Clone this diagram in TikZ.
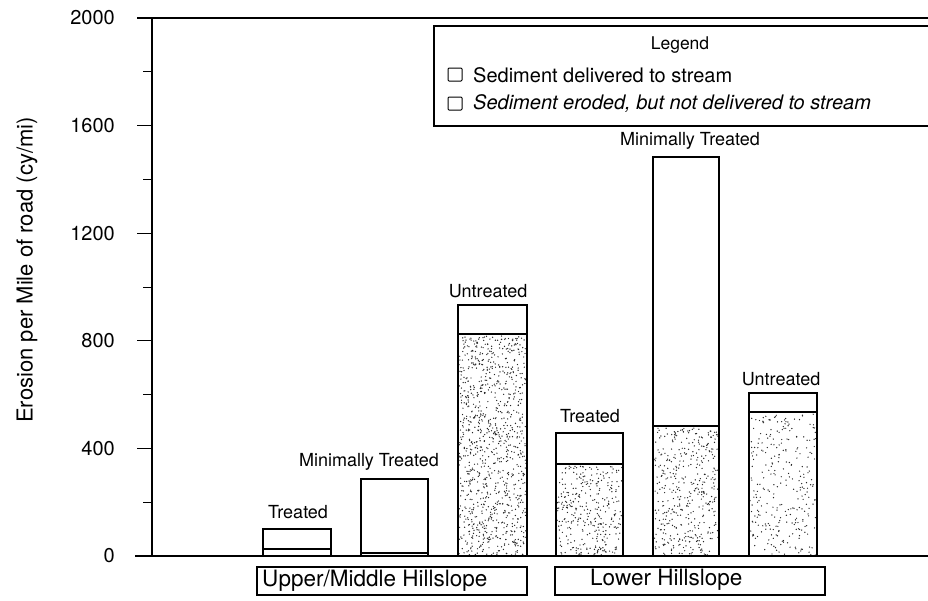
\documentclass[tikz,border=0pt]{standalone}
\usepackage{fontspec}
\setmainfont{TeX Gyre Heros}
\newcommand\mystipple[5]{%
  \foreach \k in {1,...,#5}{%
    \fill[black!85] ({#1+rnd*#3},{#2+rnd*#4}) circle (0.7);
  }%
}
\begin{document}
\begin{tikzpicture}[x=1pt,y=-1pt,
  axisl/.style={line width=1.2pt},
  barbox/.style={draw=black, line width=1.1pt},
  divl/.style={line width=1.7pt},
  barlabel/.style={font=\fontsize{18}{20}\selectfont, inner sep=0pt},
  ticklabel/.style={font=\fontsize{20}{22}\selectfont, inner sep=0pt, anchor=east},
  grouplabel/.style={font=\fontsize{22.5}{25}\selectfont, inner sep=0pt, anchor=west},
  legtext/.style={font=\fontsize{20}{22}\selectfont, inner sep=0pt, anchor=west},
  legsq/.style={draw=black, line width=1pt, rounded corners=1pt}]
\useasboundingbox (0,0) rectangle (928,600);
\pgfmathsetseed{7}
% axes
\draw[axisl] (152,18) -- (152,556);
\draw[axisl] (137,18) -- (928,18);
\draw[axisl] (135,556) -- (928,556);
\foreach \yy in {448.4,340.8,233.2,125.6}{
  \draw[axisl] (137,\yy) -- (152,\yy);
}
\foreach \yy in {502.2,394.6,287,179.4,71.8}{
  \draw[line width=0.9pt] (143,\yy) -- (152,\yy);
}
\node[ticklabel] (t0) at (115,556) {0};
\node[ticklabel] (t400) at (115,448.4) {400};
\node[ticklabel] (t800) at (115,340.8) {800};
\node[ticklabel] (t1200) at (115,233.2) {1200};
\node[ticklabel] (t1600) at (115,125.6) {1600};
\node[ticklabel] (t2000) at (115,18) {2000};
\node[font=\fontsize{22}{24}\selectfont, rotate=90, inner sep=0pt] (ylab) at (27,270) {Erosion per Mile of road (cy/mi)};
% bar 1: treated (upper)
\draw[barbox] (263,529) rectangle (331,556);
\draw[divl] (263,549) -- (331,549);
\node[barlabel] (l1) at (298,512) {Treated};
% bar 2: minimally treated (upper)
\draw[barbox] (361,479) rectangle (428,556);
\draw[divl] (361,553) -- (428,553);
\node[barlabel] (l2) at (369,462) {Minimally Treated};
% bar 3: untreated (upper)
\mystipple{459}{336}{67}{219}{1000}
\draw[barbox] (458,305) rectangle (527,556);
\draw[divl] (458,334) -- (527,334);
\node[barlabel] (l3) at (488,291) {Untreated};
% bar 4: treated (lower)
\mystipple{557}{466}{65}{89}{330}
\draw[barbox] (556,433) rectangle (623,556);
\draw[divl] (556,464) -- (623,464);
\node[barlabel] (l4) at (590,416) {Treated};
% bar 5: minimally treated (lower)
\mystipple{654}{428}{64}{127}{420}
\draw[barbox] (653,157) rectangle (719,556);
\draw[divl] (653,426) -- (719,426);
\node[barlabel] (l5) at (690,141) {Minimally Treated};
% bar 6: untreated (lower)
\mystipple{750}{414}{66}{141}{290}
\draw[barbox] (749,393) rectangle (817,556);
\draw[divl] (749,412) -- (817,412);
\node[barlabel] (l6) at (781,379) {Untreated};
% group boxes
\draw[line width=1.1pt] (257,567) rectangle (527,595);
\node[grouplabel] (g1) at (262,581) {Upper/Middle Hillslope};
\draw[line width=1.1pt] (555,567) rectangle (825,595);
\node[grouplabel] (g2) at (590,580) {Lower Hillslope};
% legend
\draw[line width=1.1pt] (930,26) -- (434,26) -- (434,126) -- (930,126);
\node[font=\fontsize{17.5}{19}\selectfont, inner sep=0pt] (legt) at (680,45) {Legend};
\draw[legsq] (448,68) rectangle (462,81);
\node[legtext] (li1) at (473,75) {Sediment delivered to stream};
\draw[legsq] (448,97) rectangle (462,110);
\node[legtext] (li2) at (473,104) {\itshape Sediment eroded, but not delivered to stream};
\end{tikzpicture}
\end{document}
